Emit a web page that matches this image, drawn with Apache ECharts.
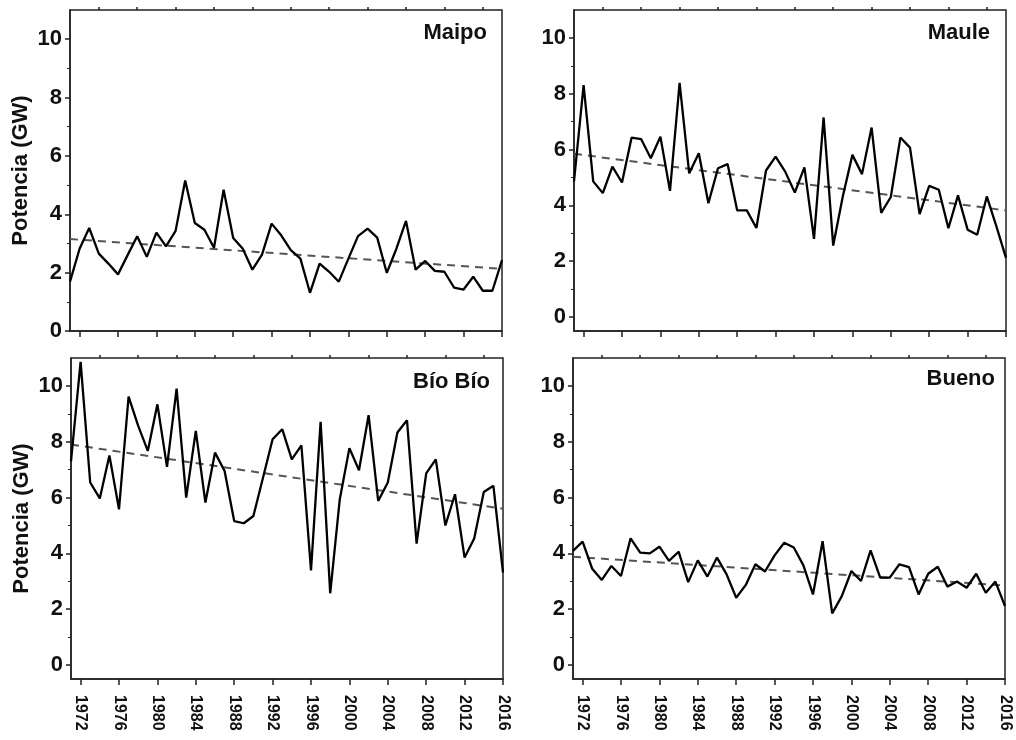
<!DOCTYPE html>
<html>
<head>
<meta charset="utf-8">
<script src="https://cdn.jsdelivr.net/npm/echarts@6/dist/echarts.min.js"></script>
<style>
  html, body { margin: 0; padding: 0; background: #fff; }
  #chart { width: 1016px; height: 740px; }
</style>
</head>
<body>
<div id="chart"></div>
<script>
// años hidrológicos
var years = [1971, 1972, 1973, 1974, 1975, 1976, 1977, 1978, 1979, 1980,
  1981, 1982, 1983, 1984, 1985, 1986, 1987, 1988, 1989, 1990,
  1991, 1992, 1993, 1994, 1995, 1996, 1997, 1998, 1999, 2000,
  2001, 2002, 2003, 2004, 2005, 2006, 2007, 2008, 2009, 2010,
  2011, 2012, 2013, 2014, 2015, 2016];

// potencia (GW) por cuenca
var maipo = [1.69, 2.82, 3.53, 2.65, 2.31, 1.94, 2.6, 3.25, 2.54, 3.37,
  2.9, 3.43, 5.16, 3.7, 3.47, 2.85, 4.84, 3.19, 2.82, 2.1,
  2.62, 3.68, 3.28, 2.77, 2.48, 1.31, 2.31, 2.03, 1.69, 2.48,
  3.25, 3.51, 3.2, 1.99, 2.82, 3.77, 2.1, 2.4, 2.06, 2.03,
  1.49, 1.42, 1.86, 1.38, 1.38, 2.43];
var maule = [4.86, 8.31, 4.86, 4.44, 5.39, 4.82, 6.43, 6.37, 5.69, 6.46,
  4.52, 8.39, 5.15, 5.87, 4.08, 5.33, 5.48, 3.82, 3.82, 3.19,
  5.25, 5.75, 5.21, 4.46, 5.36, 2.8, 7.15, 2.56, 4.32, 5.81,
  5.12, 6.79, 3.73, 4.3, 6.43, 6.07, 3.69, 4.7, 4.56, 3.18,
  4.36, 3.13, 2.95, 4.32, 3.25, 2.12];
var bioBio = [7.3, 10.86, 6.54, 5.97, 7.51, 5.58, 9.62, 8.57, 7.67, 9.34,
  7.1, 9.9, 6.0, 8.39, 5.82, 7.61, 6.95, 5.16, 5.08, 5.34,
  6.71, 8.09, 8.45, 7.37, 7.87, 3.39, 8.71, 2.57, 5.94, 7.77,
  6.98, 8.95, 5.88, 6.54, 8.33, 8.77, 4.35, 6.87, 7.37, 5.0,
  6.12, 3.85, 4.53, 6.2, 6.42, 3.31];
var bueno = [4.09, 4.42, 3.45, 3.05, 3.55, 3.19, 4.54, 4.03, 4.0, 4.24,
  3.73, 4.06, 2.97, 3.75, 3.17, 3.85, 3.25, 2.41, 2.87, 3.61,
  3.35, 3.93, 4.38, 4.21, 3.57, 2.53, 4.44, 1.85, 2.47, 3.37,
  3.01, 4.11, 3.13, 3.13, 3.61, 3.51, 2.53, 3.27, 3.52, 2.81,
  2.99, 2.77, 3.27, 2.59, 2.99, 2.11];

// tendencia lineal: valor al inicio y al final del periodo
var trendMaipo = [3.15, 2.13];
var trendMaule = [5.85, 3.82];
var trendBioBio = [7.9, 5.6];
var trendBueno = [3.88, 2.85];

var yearTicks = [1972, 1976, 1980, 1984, 1988, 1992, 1996, 2000, 2004, 2008, 2012, 2016];
var yearMinorTicks = [1974, 1978, 1982, 1986, 1990, 1994, 1998, 2002, 2006, 2010, 2014];
var powerTicks = [0, 2, 4, 6, 8, 10];
var powerMinorTicks = [1, 3, 5, 7, 9];

var panels = [
  { name: "Maipo", values: maipo, trend: trendMaipo, left: 70, top: 10, ymin: 0, labels: false, yname: true, titleRight: 529, titleTop: 22 },
  { name: "Maule", values: maule, trend: trendMaule, left: 574, top: 10, ymin: -0.5, labels: false, yname: false, titleRight: 26, titleTop: 22 },
  { name: "Bío Bío", values: bioBio, trend: trendBioBio, left: 71, top: 358, ymin: -0.5, labels: true, yname: true, titleRight: 526, titleTop: 371 },
  { name: "Bueno", values: bueno, trend: trendBueno, left: 573, top: 358, ymin: -0.5, labels: true, yname: false, titleRight: 21, titleTop: 368 }
];

var font = "Liberation Sans, Arial, sans-serif";
var option = { animation: false, title: [], grid: [], xAxis: [], yAxis: [], series: [] };

panels.forEach(function (p, i) {
  option.title.push({
    text: p.name, right: p.titleRight, top: p.titleTop, padding: 0,
    textStyle: { fontFamily: font, fontSize: 22, fontWeight: "bold", color: "#111" }
  });
  option.grid.push({
    left: p.left, top: p.top, width: 432, height: 321,
    show: true, borderColor: "#222", borderWidth: 1.5
  });
  // eje x principal + eje para marcas menores
  option.xAxis.push({
    type: "value", gridIndex: i, min: 1971, max: 2016,
    axisLine: { show: true, onZero: false, lineStyle: { color: "#222", width: 1.5 } },
    axisTick: { show: true, customValues: yearTicks, length: 6, lineStyle: { color: "#222", width: 1.5 } },
    axisLabel: {
      show: p.labels, customValues: yearTicks, rotate: -90, margin: 16,
      formatter: function (v) { return String(v); },
      fontFamily: font, fontSize: 16, fontWeight: "bold", color: "#111"
    },
    splitLine: { show: false }
  });
  option.xAxis.push({
    type: "value", gridIndex: i, min: 1971, max: 2016,
    axisLine: { show: false, onZero: false },
    axisTick: { show: true, customValues: yearMinorTicks, length: 3, lineStyle: { color: "#222", width: 1.5 } },
    axisLabel: { show: false },
    splitLine: { show: false }
  });
  option.yAxis.push({
    type: "value", gridIndex: i, min: p.ymin, max: 11,
    name: p.yname ? "Potencia (GW)" : "", nameLocation: "middle", nameGap: 38,
    nameTextStyle: { fontFamily: font, fontSize: 22, fontWeight: "bold", color: "#111" },
    axisLine: { show: true, onZero: false, lineStyle: { color: "#222", width: 1.5 } },
    axisTick: { show: true, customValues: powerTicks, length: 5, lineStyle: { color: "#222", width: 1.5 } },
    axisLabel: {
      customValues: powerTicks, margin: 8,
      fontFamily: font, fontSize: 22, fontWeight: "bold", color: "#111"
    },
    splitLine: { show: false }
  });
  option.yAxis.push({
    type: "value", gridIndex: i, min: p.ymin, max: 11, position: "left",
    axisLine: { show: false, onZero: false },
    axisTick: { show: true, customValues: powerMinorTicks, length: 3, lineStyle: { color: "#222", width: 1 } },
    axisLabel: { show: false },
    splitLine: { show: false }
  });
  option.series.push({
    type: "line", xAxisIndex: 2 * i, yAxisIndex: 2 * i, symbol: "none",
    data: [[years[0], p.trend[0]], [years[years.length - 1], p.trend[1]]],
    lineStyle: { color: "#555", width: 2, type: [8, 6] }
  });
  option.series.push({
    type: "line", xAxisIndex: 2 * i, yAxisIndex: 2 * i, symbol: "none",
    data: years.map(function (y, k) { return [y, p.values[k]]; }),
    lineStyle: { color: "#000", width: 2.3 }
  });
});

var chart = echarts.init(document.getElementById("chart"));
chart.setOption(option);
</script>
</body>
</html>
